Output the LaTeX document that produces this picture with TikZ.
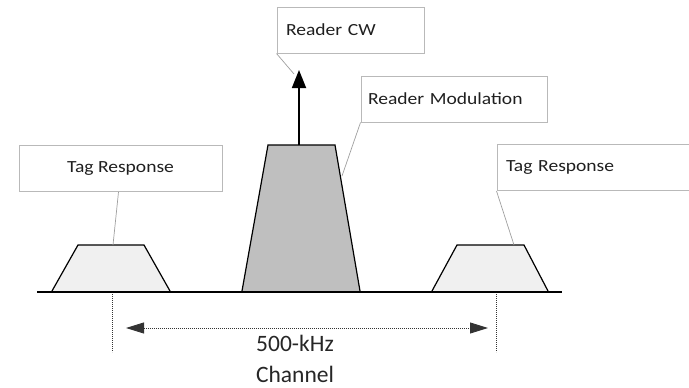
\documentclass[tikz,border=0pt]{standalone}
\usepackage{fontspec}
\setmainfont{Carlito}
\newfontfamily\lblfont{Carlito}[FakeStretch=1.15]
\usetikzlibrary{arrows.meta}
\begin{document}
\begin{tikzpicture}[x=1pt,y=-1pt,
  lbl/.style={draw=gray!55, line width=1pt, minimum height=46pt, inner ysep=0pt,
    font=\lblfont\fontsize{17}{20}\selectfont, text=black!88},
  lead/.style={draw=gray!75, line width=0.7pt},
  trap/.style={draw=black, line width=1.2pt, line join=miter},
  dimline/.style={dash pattern=on 0.9pt off 1.1pt, line width=0.9pt, draw=black!80},
  dimtip/.style={Triangle[length=18pt,width=11pt, fill=black, color=black]}
]
\useasboundingbox (0,0) rectangle (689,388);

% baseline
\coordinate (b0) at (37,292);
\coordinate (b1) at (562,292);

% trapezoids
\draw[trap, fill=gray!12] (52,291) -- (78,245) -- (144,245) -- (170,291);
\draw[trap, fill=gray!50] (242,291) -- (268,145) -- (335,145) -- (360,291);
\draw[trap, fill=gray!12] (432,291) -- (457,245) -- (524,245) -- (548,291);
\draw[line width=1.2pt] (b0) -- (b1);

% carrier arrow
\coordinate (cwbase) at (299,145);
\coordinate (cwtip) at (299,70);
\draw[-{Triangle[length=18pt,width=14pt]}, line width=1.8pt] (cwbase) -- (cwtip);

% label boxes
\node[lbl, minimum width=203pt, align=center] (tagL) at (120.5,168.5) {Tag Response};
\node[lbl, minimum width=147pt, inner xsep=0pt, text width=129pt, align=left] (cw) at (350.5,30) {Reader CW};
\node[lbl, minimum width=186pt, inner xsep=0pt, text width=172pt, align=left] (mod) at (454,99) {Reader Modulation};
\node[lbl, minimum width=196pt, inner xsep=0pt, text width=178pt, align=left] (tagR) at (595,167.5) {Tag Response};

% leader lines
\coordinate (pL) at (113,245);
\coordinate (pCW) at (294,74);
\coordinate (pMod) at (342,176);
\coordinate (pR) at (514,245);
\draw[lead] ([xshift=-2pt]tagL.south) -- (pL);
\draw[lead] (cw.south west) -- (pCW);
\draw[lead] (mod.south west) -- (pMod);
\draw[lead] (tagR.south west) -- (pR);

% channel markers
\coordinate (vL0) at (112,294);
\coordinate (vL1) at (112,352);
\coordinate (vR0) at (496,294);
\coordinate (vR1) at (496,352);
\draw[dimline] (vL0) -- (vL1);
\draw[dimline] (vR0) -- (vR1);
\coordinate (aL) at (126,328);
\coordinate (aR) at (488,328);
\draw[dimline, {Triangle[length=18pt,width=11pt]}-{Triangle[length=18pt,width=11pt]}] (aL) -- (aR);

\node[font=\fontsize{23.5}{31}\selectfont, text=black!85, align=center, anchor=north] (chan) at (295,332) {500-kHz\\Channel};
\end{tikzpicture}
\end{document}
